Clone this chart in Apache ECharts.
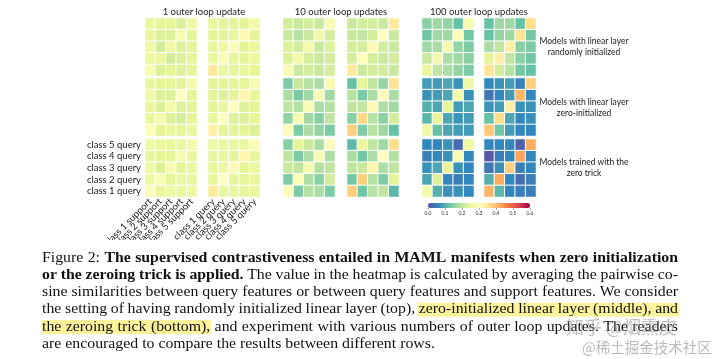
<!DOCTYPE html>
<html><head><meta charset="utf-8">
<script src="https://cdn.jsdelivr.net/npm/echarts@6/dist/echarts.min.js"></script>
<style>html,body{margin:0;padding:0;background:#fff}#c{width:720px;height:359px}</style>
</head><body><div id="c"></div>
<script>
// ---------- categories / labels ----------
const supportCats = ['class 1 support','class 2 support','class 3 support','class 4 support','class 5 support'];
const queryCats = ['class 1 query','class 2 query','class 3 query','class 4 query','class 5 query'];
const colTitles = ['1 outer loop update','10 outer loop updates','100 outer loop updates'];
const rowTitles = [['Models with linear layer','randomly initialized'],['Models with linear layer','zero-initialized'],['Models trained with the','zero trick']];
const colorbarTicks = [0,0.1,0.2,0.3,0.4,0.5,0.6];

// ---------- values (rows listed top→bottom: class 5 query ... class 1 query; columns class 1..5) ----------
// Row 1: randomly initialized linear layer
const rand1Support = [[0.25,0.24,0.24,0.23,0.26],[0.25,0.23,0.23,0.28,0.24],[0.26,0.22,0.26,0.23,0.24],[0.25,0.25,0.22,0.23,0.24],[0.28,0.23,0.24,0.23,0.24]];
const rand1Query   = [[0.25,0.24,0.24,0.24,0.27],[0.24,0.24,0.25,0.31,0.24],[0.25,0.26,0.29,0.24,0.25],[0.25,0.28,0.24,0.24,0.25],[0.34,0.25,0.24,0.25,0.24]];
const rand10Support = [[0.22,0.21,0.22,0.21,0.28],[0.21,0.19,0.21,0.27,0.22],[0.23,0.22,0.27,0.21,0.23],[0.23,0.27,0.22,0.21,0.22],[0.28,0.21,0.22,0.21,0.22]];
const rand10Query   = [[0.21,0.22,0.22,0.21,0.34],[0.21,0.20,0.22,0.30,0.21],[0.22,0.22,0.31,0.22,0.21],[0.22,0.30,0.22,0.21,0.22],[0.34,0.21,0.22,0.22,0.21]];
const rand100Support = [[0.15,0.17,0.16,0.12,0.28],[0.13,0.17,0.17,0.29,0.13],[0.17,0.18,0.27,0.16,0.14],[0.21,0.27,0.18,0.17,0.15],[0.25,0.20,0.18,0.16,0.14]];
const rand100Query   = [[0.12,0.17,0.17,0.12,0.36],[0.12,0.16,0.17,0.35,0.13],[0.18,0.20,0.33,0.15,0.14],[0.24,0.33,0.20,0.15,0.13],[0.35,0.22,0.19,0.13,0.12]];
// Row 2: zero-initialized linear layer
const zero1Support = [[0.25,0.24,0.24,0.24,0.27],[0.26,0.23,0.23,0.30,0.24],[0.25,0.23,0.27,0.23,0.24],[0.25,0.27,0.23,0.22,0.24],[0.29,0.24,0.25,0.24,0.25]];
const zero1Query   = [[0.24,0.24,0.24,0.24,0.28],[0.24,0.23,0.24,0.32,0.24],[0.24,0.25,0.30,0.23,0.24],[0.25,0.30,0.23,0.23,0.24],[0.33,0.24,0.24,0.24,0.23]];
const zero10Support = [[0.14,0.21,0.19,0.18,0.28],[0.18,0.14,0.17,0.28,0.17],[0.20,0.19,0.28,0.18,0.19],[0.16,0.28,0.17,0.15,0.20],[0.29,0.14,0.18,0.16,0.14]];
const zero10Query   = [[0.12,0.24,0.20,0.16,0.35],[0.19,0.14,0.18,0.31,0.18],[0.20,0.20,0.31,0.18,0.17],[0.15,0.37,0.19,0.15,0.22],[0.38,0.14,0.19,0.17,0.12]];
const zero100Support = [[0.08,0.08,0.09,0.07,0.26],[0.07,0.08,0.09,0.27,0.07],[0.10,0.09,0.24,0.08,0.09],[0.11,0.24,0.09,0.07,0.08],[0.26,0.12,0.09,0.08,0.08]];
const zero100Query   = [[0.06,0.07,0.08,0.05,0.38],[0.04,0.06,0.08,0.41,0.06],[0.07,0.08,0.33,0.07,0.07],[0.12,0.36,0.09,0.06,0.07],[0.39,0.13,0.08,0.06,0.06]];
// Row 3: zeroing trick
const trick1Support = [[0.26,0.25,0.25,0.25,0.27],[0.25,0.24,0.24,0.28,0.25],[0.26,0.23,0.28,0.24,0.25],[0.26,0.28,0.24,0.25,0.25],[0.29,0.25,0.26,0.25,0.26]];
const trick1Query   = [[0.26,0.25,0.25,0.25,0.29],[0.25,0.25,0.24,0.32,0.25],[0.25,0.26,0.31,0.24,0.25],[0.25,0.30,0.24,0.24,0.25],[0.34,0.25,0.25,0.25,0.25]];
const trick10Support = [[0.15,0.24,0.21,0.18,0.29],[0.20,0.14,0.18,0.28,0.18],[0.21,0.20,0.28,0.19,0.20],[0.14,0.29,0.18,0.15,0.22],[0.29,0.14,0.19,0.18,0.14]];
const trick10Query   = [[0.11,0.25,0.20,0.17,0.36],[0.18,0.13,0.18,0.30,0.19],[0.20,0.21,0.32,0.18,0.20],[0.13,0.38,0.19,0.14,0.24],[0.38,0.13,0.19,0.20,0.11]];
const trick100Support = [[0.06,0.06,0.07,0.03,0.26],[0.05,0.06,0.07,0.28,0.06],[0.07,0.09,0.24,0.07,0.06],[0.09,0.23,0.06,0.05,0.06],[0.27,0.10,0.07,0.07,0.06]];
const trick100Query   = [[0.06,0.06,0.06,0.02,0.42],[0.01,0.05,0.06,0.43,0.06],[0.04,0.07,0.38,0.05,0.06],[0.10,0.42,0.06,0.03,0.05],[0.41,0.11,0.06,0.05,0.05]];

const panels = [
  [rand1Support, rand1Query, rand10Support, rand10Query, rand100Support, rand100Query],
  [zero1Support, zero1Query, zero10Support, zero10Query, zero100Support, zero100Query],
  [trick1Support, trick1Query, trick10Support, trick10Query, trick100Support, trick100Query]
];

// ---------- caption ----------
const captionLines = [
  [{t:'Figure 2:'},{t:'The supervised contrastiveness entailed in MAML manifests when zero initialization',b:1}],
  [{t:'or the zeroing trick is applied.',b:1},{t:'The value in the heatmap is calculated by averaging the pairwise co-'}],
  [{t:'sine similarities between query features or between query features and support features. We consider'}],
  [{t:'the setting of having randomly initialized linear layer (top),'},{t:'zero-initialized linear layer (middle), and',h:1}],
  [{t:'the zeroing trick (bottom),',h:1},{t:'and experiment with various numbers of outer loop updates. The readers'}],
  [{t:'are encouraged to compare the results between different rows.',last:1}]
];

// ---------- layout ----------
const colX = [145,208,283,347,422,484];
const rowY = [18,78,139];
const PW = 52, PH = 58;
const spectralR = ['#5e4fa2','#3288bd','#66c2a5','#abdda4','#e6f598','#ffffbf','#fee08b','#fdae61','#f46d43','#d53e4f','#9e0142'];
const LAB = 'Lato, "Open Sans", sans-serif';

const grids = [], xAxes = [], yAxes = [], series = [];
let idx = 0;
for (let r = 0; r < 3; r++) {
  for (let c = 0; c < 6; c++) {
    grids.push({left: colX[c], top: rowY[r], width: PW, height: PH, containLabel: false});
    xAxes.push({type:'category', gridIndex: idx, data: c % 2 === 0 ? supportCats : queryCats,
      axisLine:{show:false}, axisTick:{show:false}, splitLine:{show:false},
      axisLabel:{show: r === 2 && c < 2, rotate:45, interval:0, fontSize:9.5, fontFamily: LAB, color:'#222', margin:3}});
    yAxes.push({type:'category', gridIndex: idx, data: queryCats,
      axisLine:{show:false}, axisTick:{show:false}, splitLine:{show:false},
      axisLabel:{show: r === 2 && c === 0, interval:0, fontSize:9.5, fontFamily: LAB, color:'#222', margin:4}});
    const m = panels[r][c];
    const data = [];
    m.forEach((row, ri) => row.forEach((v, ci) => data.push([ci, 4 - ri, v])));
    series.push({type:'heatmap', xAxisIndex: idx, yAxisIndex: idx, data,
      itemStyle:{borderColor:'#fff', borderWidth:1}, emphasis:{disabled:true}, silent:true});
    idx++;
  }
}
// colorbar tick axis
grids.push({left:428, top:203, width:102, height:5});
xAxes.push({type:'value', gridIndex: idx, min: colorbarTicks[0], max: colorbarTicks[colorbarTicks.length-1], interval: 0.1,
  axisLine:{show:false}, splitLine:{show:false}, axisTick:{show:true, length:2, lineStyle:{color:'#555', width:0.5}},
  axisLabel:{fontSize:5, color:'#333', margin:3, fontFamily: LAB, formatter: v => v.toFixed(1)}});
yAxes.push({type:'value', gridIndex: idx, show:false});
series.push({type:'scatter', xAxisIndex: idx, yAxisIndex: idx, data: [], silent:true});

// ---------- text graphics ----------
const graphics = [];
const tcol = [204, 341, 479];
colTitles.forEach((t, i) => graphics.push({type:'text', x: tcol[i], y: 12, z: 10,
  style:{text: t, fontSize: 9.5, fontFamily: LAB, fill:'#222', align:'center', verticalAlign:'middle', textAlign:'center', textVerticalAlign:'middle'}}));
const rty = [47, 108, 168];
rowTitles.forEach((t, i) => graphics.push({type:'text', x: 584, y: rty[i], z: 10,
  style:{text: t.join('\n'), fontSize: 8.5, lineHeight: 10.5, fontFamily: LAB, fill:'#222', align:'center', verticalAlign:'middle', textAlign:'center', textVerticalAlign:'middle'}}));

// white band clipping rotated labels
graphics.push({type:'rect', z: 50, shape:{x:0, y:240, width:720, height:120}, style:{fill:'#fff'}});

// justified caption (image is horizontally stretched: font 14px, x-scale ~1.13)
const CAP = 14, SX = 1.13, CX0 = 42, CX1 = 678;
const capY = [258, 275.3, 292.5, 309.8, 327, 344.2];
const ctx = document.createElement('canvas').getContext('2d');
const fstr = b => (b ? 'bold ' : '') + CAP + 'px "Liberation Serif"';
const meas = (t, b) => { ctx.font = fstr(b); return ctx.measureText(t).width; };
const SP = meas(' ', false);
captionLines.forEach((runs, li) => {
  const words = [];
  let last = false;
  runs.forEach(run => { if (run.last) last = true; run.t.split(' ').forEach(w => words.push({w, b: !!run.b, h: !!run.h, wd: meas(w, !!run.b)})); });
  const total = words.reduce((s, w) => s + w.wd, 0);
  const W = CX1 - CX0, n = words.length;
  let sx = SX, gap;
  if (last) { gap = SP * sx; }
  else {
    const fit = W / (total + (n - 1) * SP * 0.85);
    sx = Math.min(SX, fit);
    gap = (W - sx * total) / (n - 1);
  }
  let x = CX0;
  let hs = null, he = null;
  words.forEach(w => {
    w.x = x;
    if (w.h) { if (hs === null) hs = x; he = x + w.wd * sx; }
    x += w.wd * sx + gap;
  });
  if (hs !== null) graphics.push({type:'rect', z: 60, shape:{x: hs - 1, y: capY[li] - 7, width: he - hs + 2, height: 14}, style:{fill:'#fcf39c'}});
  words.forEach(w => graphics.push({type:'text', x: w.x, y: capY[li], scaleX: sx, z: 70,
    style:{text: w.w, font: fstr(w.b), fill:'#111', verticalAlign:'middle', textVerticalAlign:'middle'}}));
});
// watermarks
graphics.push({type:'text', x: 566, y: 327, z: 80, style:{text:'知乎 @烟熏皮', fontSize: 18, fontFamily:'"Noto Sans CJK SC"', fill:'rgba(140,140,140,0.55)', verticalAlign:'middle', textVerticalAlign:'middle'}});
graphics.push({type:'text', x: 582, y: 347, z: 80, style:{text:'@稀土掘金技术社区', fontSize: 14.5, fontFamily:'"Noto Sans CJK SC"', fill:'rgba(140,140,140,0.6)', verticalAlign:'middle', textVerticalAlign:'middle'}});

const chart = echarts.init(document.getElementById('c'), null, {renderer:'canvas'});
chart.setOption({
  animation: false,
  backgroundColor: '#fff',
  grid: grids, xAxis: xAxes, yAxis: yAxes, series,
  visualMap: [{type:'continuous', min: colorbarTicks[0], max: colorbarTicks[colorbarTicks.length-1], seriesIndex: Array.from({length:18}, (_, i) => i),
    orient:'horizontal', left: 428, top: 203, itemWidth: 5, itemHeight: 102, padding: 0, calculable: false, text: null, hoverLink:false,
    inRange:{color: spectralR}}],
  graphic: graphics
});
</script></body></html>
